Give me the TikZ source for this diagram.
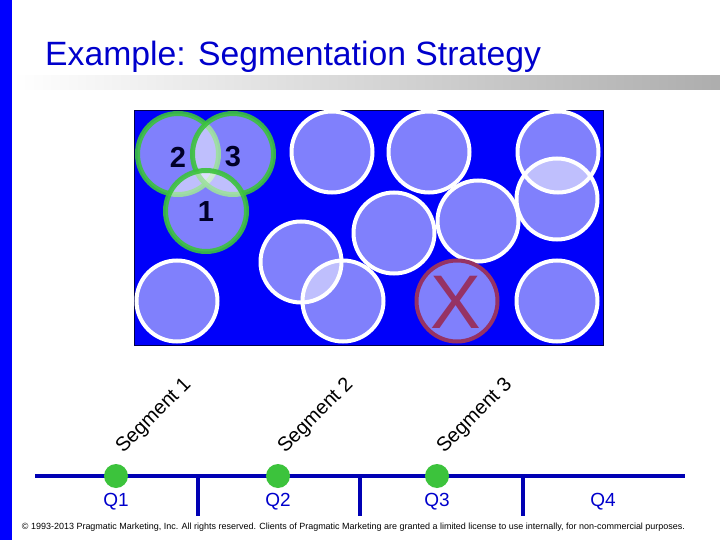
\documentclass[tikz,border=0pt]{standalone}
\usepackage{fontspec}
\setmainfont{Liberation Sans}
\usetikzlibrary{shadings}
\definecolor{barblue}{RGB}{0,0,255}
\definecolor{titleblue}{RGB}{0,0,204}
\definecolor{lineblue}{RGB}{0,0,180}
\definecolor{rectblue}{RGB}{0,0,250}
\definecolor{grn}{RGB}{60,195,60}
\definecolor{xpurple}{RGB}{150,50,100}
\definecolor{numcol}{RGB}{0,0,40}
\tikzset{
  wcirc/.style={circle, minimum size=81pt, inner sep=0pt, draw=white, line width=4pt, fill=white, fill opacity=0.5},
  gcirc/.style={circle, minimum size=81pt, inner sep=0pt, draw=grn, draw opacity=0.9, line width=5pt, fill=white, fill opacity=0.5},
  xcirc/.style={circle, minimum size=81pt, inner sep=0pt, draw=xpurple, line width=4pt, fill=white, fill opacity=0.5},
  num/.style={font=\bfseries\fontsize{29}{31}\selectfont, text=numcol, inner sep=0pt},
  seg/.style={font=\fontsize{20}{22}\selectfont, rotate=45, inner sep=0pt},
  qlab/.style={font=\fontsize{19}{21}\selectfont, text=titleblue, inner sep=0pt},
  dot/.style={circle, fill=grn, minimum size=24pt, inner sep=0pt},
  tl/.style={draw=lineblue, line width=4pt},
  tick/.style={draw=lineblue, line width=3.5pt}
}
\begin{document}
\begin{tikzpicture}[x=1pt, y=-1pt]
\useasboundingbox (0,0) rectangle (720,540);
\fill[white] (0,0) rectangle (720,540);
% left bar
\fill[barblue] (0,0) rectangle (12,540);
% gray gradient bar
\shade[left color=white, right color=black!32] (12,76) rectangle (720,90);
% title
\node[anchor=base west, inner sep=0pt, text=titleblue, font=\fontsize{33.7}{36}\selectfont] (title) at (45,66) {Example: Segmentation Strategy};
% blue rectangle
\draw[fill=rectblue, draw=black!70!blue, line width=0.6pt] (134,110) rectangle (603,345);
% circles
\node[wcirc] (ca) at (332,152) {};
\node[wcirc] (cb) at (429,152) {};
\node[wcirc] (cc) at (558,152) {};
\node[wcirc] (cd) at (557,199) {};
\node[wcirc] (ce) at (478,221) {};
\node[wcirc] (cf) at (394,233) {};
\node[wcirc] (cg) at (301,262) {};
\node[wcirc] (ch) at (343,301) {};
\node[wcirc] (ci) at (177,301) {};
\node[wcirc] (cj) at (557,301) {};
\node[xcirc] (cx) at (457,301) {};
\node[text=xpurple, font=\fontsize{76}{80}\selectfont, inner sep=0pt] (xl) at (456,302) {X};
% green circles
\node[gcirc] (g2) at (178,154) {};
\node[gcirc] (g3) at (233,154) {};
\node[gcirc] (g1) at (206,211) {};
\node[num] (n2) at (178,157) {2};
\node[num] (n3) at (233,157) {3};
\node[num] (n1) at (206,212) {1};
% timeline
\coordinate (tlstart) at (35,476);
\coordinate (tlend) at (685,476);
\draw[tl] (tlstart) -- (tlend);
\coordinate (t1a) at (198,476); \coordinate (t1b) at (198,516);
\coordinate (t2a) at (360,476); \coordinate (t2b) at (360,516);
\coordinate (t3a) at (523,476); \coordinate (t3b) at (523,516);
\draw[tick] (t1a) -- (t1b);
\draw[tick] (t2a) -- (t2b);
\draw[tick] (t3a) -- (t3b);
\node[dot] (d1) at (116,476) {};
\node[dot] (d2) at (278,476) {};
\node[dot] (d3) at (437,476) {};
\node[qlab] (q1) at (116,502) {Q1};
\node[qlab] (q2) at (278,502) {Q2};
\node[qlab] (q3) at (437,502) {Q3};
\node[qlab] (q4) at (603,502) {Q4};
\node[seg] (s1) at (154,416) {Segment 1};
\node[seg] (s2) at (316,416) {Segment 2};
\node[seg] (s3) at (475,416) {Segment 3};
% copyright
\node[inner sep=0pt] (copy) at (353.5,527) {\resizebox{663pt}{!}{\fontsize{8}{9}\selectfont © 1993-2013 Pragmatic Marketing, Inc. All rights reserved. Clients of Pragmatic Marketing are granted a limited license to use internally, for non-commercial purposes.}};
\end{tikzpicture}
\end{document}
